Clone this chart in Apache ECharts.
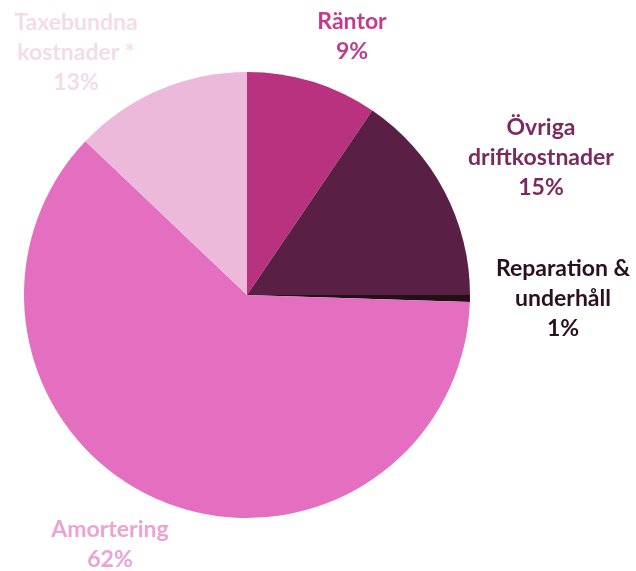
<!DOCTYPE html>
<html>
<head>
<meta charset="utf-8">
<script src="https://cdn.jsdelivr.net/npm/echarts@6/dist/echarts.min.js"></script>
<style>
  html, body { margin: 0; padding: 0; background: #fff; }
  #chart { width: 636px; height: 571px; }
</style>
</head>
<body>
<div id="chart"></div>
<script>
// slices, clockwise from 12 o'clock
const names = ['Räntor', 'Övriga\ndriftkostnader', 'Reparation &\nunderhåll', 'Amortering', 'Taxebundna\nkostnader *'];
const values = [9.5, 15.5, 0.5, 61.6, 12.9];
const pctLabels = ['9%', '15%', '1%', '62%', '13%'];

const sliceColors = ['#b8327f', '#5a1f44', '#231016', '#e46ec0', '#ecb9da'];
const textColors = ['#c23c8c', '#7a2b5e', '#2a1020', '#eaa3d3', '#f4dbea'];
// label centres (px)
const labelPos = [[352, 37], [541, 158], [563, 299], [110, 545], [76, 53]];

const chart = echarts.init(document.getElementById('chart'));

let data = [];
for (let i = 0; i < values.length; i++) {
    data.push({
        name: names[i],
        value: values[i],
        itemStyle: { color: sliceColors[i] },
        label: { color: textColors[i] }
    });
}

chart.setOption({
    animation: false,
    series: [
        {
            type: 'pie',
            center: [247, 295],
            radius: 223,
            startAngle: 90,
            clockwise: true,
            avoidLabelOverlap: false,
            itemStyle: { borderWidth: 0 },
            label: {
                show: true,
                position: 'outside',
                fontFamily: 'Lato',
                fontWeight: 'bold',
                fontSize: 23,
                lineHeight: 30,
                align: 'center',
                formatter: (p) => p.name + '\n' + pctLabels[p.dataIndex]
            },
            labelLine: { show: false },
            labelLayout: (p) => ({
                x: labelPos[p.dataIndex][0],
                y: labelPos[p.dataIndex][1],
                align: 'center',
                verticalAlign: 'middle'
            }),
            data: data
        }
    ]
});
</script>
</body>
</html>
